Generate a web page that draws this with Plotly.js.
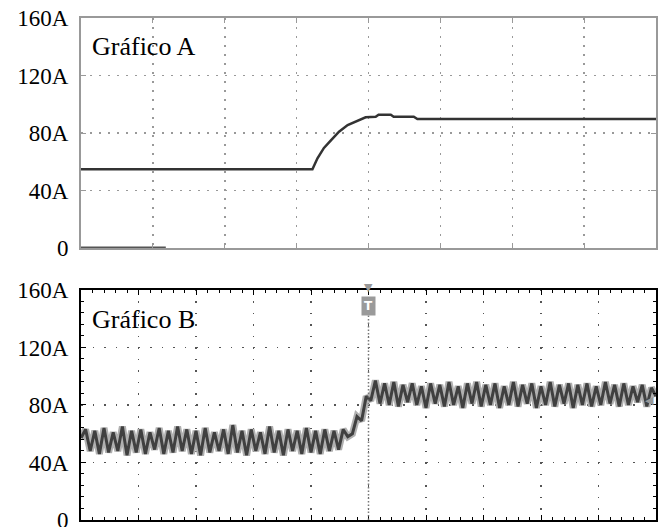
<!DOCTYPE html>
<html>
<head>
<meta charset="utf-8">
<script src="https://cdn.plot.ly/plotly-3.0.1.min.js"></script>
<style>
html,body{margin:0;padding:0;background:#fff;}
#chart{width:664px;height:527px;}
</style>
</head>
<body>
<div id="chart"></div>
<script>
// ---- Data ----
const yTickVals = [0, 40, 80, 120, 160];
const yTickText = ["0", "40A", "80A", "120A", "160A"];

// Gráfico A (smooth response), x in divisions (0..8)
const aTime = [0, 3.22, 3.29, 3.38, 3.48, 3.59, 3.71, 3.85, 3.96, 4.10, 4.14, 4.31, 4.35, 4.63, 4.68, 8];
const aCurrent = [54.8, 54.8, 62.4, 69.6, 75.1, 80.9, 85.5, 88.5, 90.9, 91.3, 92.7, 92.7, 91.3, 91.3, 89.7, 89.7];
// short zero-level segment at the start of Gráfico A
const aZeroTime = [0, 1.18];
const aZeroCurrent = [0, 0];

// Gráfico B (measured, with ripple), sampled every 0.08 division from 0 to 10
const bStart = 0;
const bStep = 0.08;
const bCurrent = [
  57, 63, 48, 62, 46, 64, 47, 61, 48, 65,
  45, 62, 47, 63, 46, 61, 49, 64, 46, 62,
  47, 65, 48, 63, 46, 62, 45, 64, 47, 61,
  48, 63, 46, 66, 47, 62, 45, 63, 48, 61,
  46, 65, 47, 62, 45, 63, 48, 62, 46, 64,
  47, 62, 46, 63, 48, 62, 49, 63, 58,
  60, 72, 69, 86, 83, 97,
  81, 95, 80, 96, 79, 94, 82, 95, 80, 93,
  78, 95, 81, 94, 79, 96, 80, 93, 78, 95,
  81, 96, 79, 94, 80, 95, 78, 93, 80, 96,
  79, 94, 81, 95, 78, 93, 80, 96, 79, 94,
  81, 95, 78, 94, 80, 95, 79, 93, 80, 96,
  81, 94, 79, 95, 80, 93, 82, 94, 79, 92, 86
];
const bTrigger = 5;
const bMarkerLevel = 83;

// ---- Traces ----
const traces = [
  {x: aZeroTime, y: aZeroCurrent, xaxis: 'x', yaxis: 'y', mode: 'lines',
   line: {color: '#555', width: 3}, hoverinfo: 'skip', cliponaxis: false},
  {x: aTime, y: aCurrent, xaxis: 'x', yaxis: 'y', mode: 'lines',
   line: {color: '#333', width: 2.5}},
  {x0: bStart, dx: bStep, y: bCurrent, xaxis: 'x2', yaxis: 'y2', mode: 'lines',
   line: {color: '#b0b0b0', width: 7}},
  {x0: bStart, dx: bStep, y: bCurrent, xaxis: 'x2', yaxis: 'y2', mode: 'lines',
   line: {color: '#404040', width: 3}}
];

const serif = '"Liberation Serif", "DejaVu Serif", serif';

const yCommon = {
  range: [0, 160], tickvals: yTickVals, ticktext: yTickText,
  ticks: 'inside', ticklen: 5, showgrid: true, zeroline: false,
  showline: true, mirror: 'ticks', ticklabelstandoff: 6, ticklabeloverflow: 'allow',
  tickfont: {family: serif, size: 23, color: '#000'}
};

const layout = {
  width: 664, height: 527,
  margin: {l: 81, r: 8, t: 18, b: 7},
  paper_bgcolor: '#fff', plot_bgcolor: '#fff',
  showlegend: false,
  font: {family: serif},
  xaxis: {domain: [0, 1], anchor: 'y', range: [0, 8], dtick: 1, showticklabels: false,
    ticks: 'inside', ticklen: 5, tickcolor: '#999', showgrid: true, gridcolor: '#999',
    griddash: '2px,7px', gridwidth: 1.5, zeroline: false, showline: true,
    linecolor: '#999', linewidth: 2, mirror: 'ticks'},
  yaxis: Object.assign({}, yCommon, {domain: [0.5418, 1], anchor: 'x',
    tickcolor: '#999', gridcolor: '#999', griddash: '2px,7px', gridwidth: 1.5,
    linecolor: '#999', linewidth: 2}),
  xaxis2: {domain: [0, 1], anchor: 'y2', range: [0, 10], dtick: 1, showticklabels: false,
    ticks: 'inside', ticklen: 5, tickcolor: '#000', showgrid: true, gridcolor: '#555',
    griddash: '1.5px,10px', gridwidth: 1.5, zeroline: false, showline: true,
    linecolor: '#000', linewidth: 2, mirror: 'ticks',
    minor: {dtick: 0.2, ticks: 'inside', ticklen: 3, tickcolor: '#000', showgrid: false}},
  yaxis2: Object.assign({}, yCommon, {domain: [0, 0.4582], anchor: 'x2',
    tickcolor: '#000', gridcolor: '#555', griddash: '1.5px,10px', gridwidth: 1.5,
    linecolor: '#000', linewidth: 2,
    minor: {dtick: 8, ticks: 'inside', ticklen: 3, tickcolor: '#000', showgrid: false}}),
  shapes: [
    {type: 'line', xref: 'x2', yref: 'y2 domain', x0: bTrigger, x1: bTrigger, y0: 0, y1: 0.93,
     line: {color: '#777', width: 1.5, dash: '1.5px,2px'}}
  ],
  annotations: [
    {text: 'Gráfico A', xref: 'x domain', yref: 'y domain', x: 0.015, y: 0.874,
     xanchor: 'left', yanchor: 'middle', showarrow: false,
     font: {family: serif, size: 26, color: '#000'}},
    {text: 'Gráfico B', xref: 'x2 domain', yref: 'y2 domain', x: 0.015, y: 0.87,
     xanchor: 'left', yanchor: 'middle', showarrow: false,
     font: {family: serif, size: 26, color: '#000'}},
    {text: '▼', xref: 'x2', yref: 'y2 domain', x: bTrigger, y: 1, yshift: 2,
     xanchor: 'center', yanchor: 'middle', showarrow: false,
     font: {family: 'DejaVu Sans', size: 11, color: '#999'}},
    {text: '<b>T</b>', xref: 'x2', yref: 'y2 domain', x: bTrigger, y: 1, yshift: -6,
     xanchor: 'center', yanchor: 'top', showarrow: false, bgcolor: '#9a9a9a',
     borderpad: 2, font: {family: 'DejaVu Sans', size: 12, color: '#fff'}},
    {text: '◀', xref: 'x2 domain', yref: 'y2', x: 1, y: bMarkerLevel,
     xanchor: 'right', yanchor: 'middle', showarrow: false,
     font: {family: 'DejaVu Sans', size: 11, color: '#999'}}
  ]
};

Plotly.newPlot('chart', traces, layout, {displayModeBar: false, staticPlot: true});
</script>
</body>
</html>
